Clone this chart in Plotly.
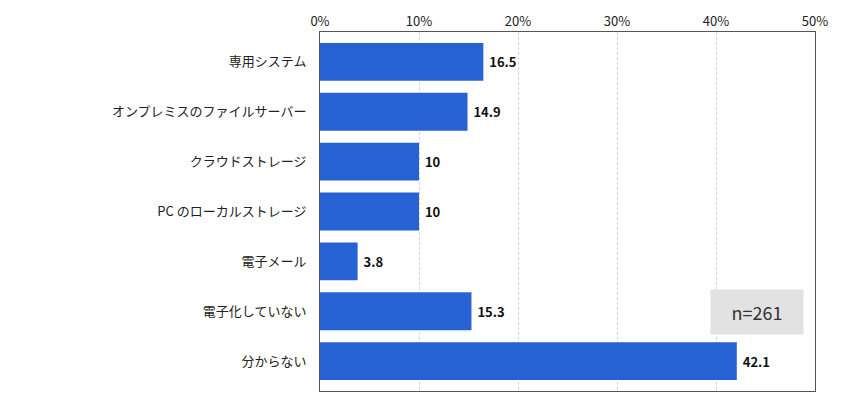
import plotly.graph_objects as go

categories = ["専用システム", "オンプレミスのファイルサーバー", "クラウドストレージ",
              "PC のローカルストレージ", "電子メール", "電子化していない", "分からない"]
values = [16.5, 14.9, 10, 10, 3.8, 15.3, 42.1]
value_labels = ["16.5", "14.9", "10", "10", "3.8", "15.3", "42.1"]
tick_vals = [0, 10, 20, 30, 40, 50]
tick_text = ["0%", "10%", "20%", "30%", "40%", "50%"]
n_label = "n=261"

font_jp = "Noto Sans CJK JP"

fig = go.Figure()
fig.add_trace(go.Bar(
    y=categories, x=values, orientation="h",
    marker=dict(color="#2762D4", line=dict(width=0)),
    width=0.76,
    text=["\u00a0<b>%s</b>" % t for t in value_labels],
    textposition="outside",
    textfont=dict(family=font_jp, size=13, color="#111111"),
    cliponaxis=False,
    hoverinfo="skip",
))

fig.update_layout(
    width=843, height=406,
    margin=dict(l=312, r=36, t=24, b=23),
    paper_bgcolor="white", plot_bgcolor="white",
    showlegend=False,
    font=dict(family=font_jp, color="#222222", size=13),
    xaxis=dict(
        range=[0, 50], side="top",
        tickvals=tick_vals, ticktext=tick_text,
        tickfont=dict(size=13, color="#222222"),
        showgrid=True, gridcolor="#d6d6d6", griddash="3px,2px", gridwidth=1,
        zeroline=False, showline=True, linecolor="#555555", linewidth=1, mirror=True,
        ticks="", ticklen=0, automargin=False,
    ),
    yaxis=dict(
        categoryorder="array", categoryarray=categories,
        range=[6.6, -0.6],
        tickfont=dict(size=13, color="#222222"),
        showline=True, linecolor="#555555", linewidth=1, mirror=True,
        ticks="", ticklabelstandoff=10, automargin=False,
    ),
    annotations=[dict(
        xref="paper", yref="paper", x=0.883, y=0.22, xanchor="center", yanchor="middle",
        text=n_label, showarrow=False, font=dict(size=18, color="#333333", family=font_jp),
        bgcolor="#e2e2e2", width=90, height=42,
    )],
)

fig.write_html("out.html")
